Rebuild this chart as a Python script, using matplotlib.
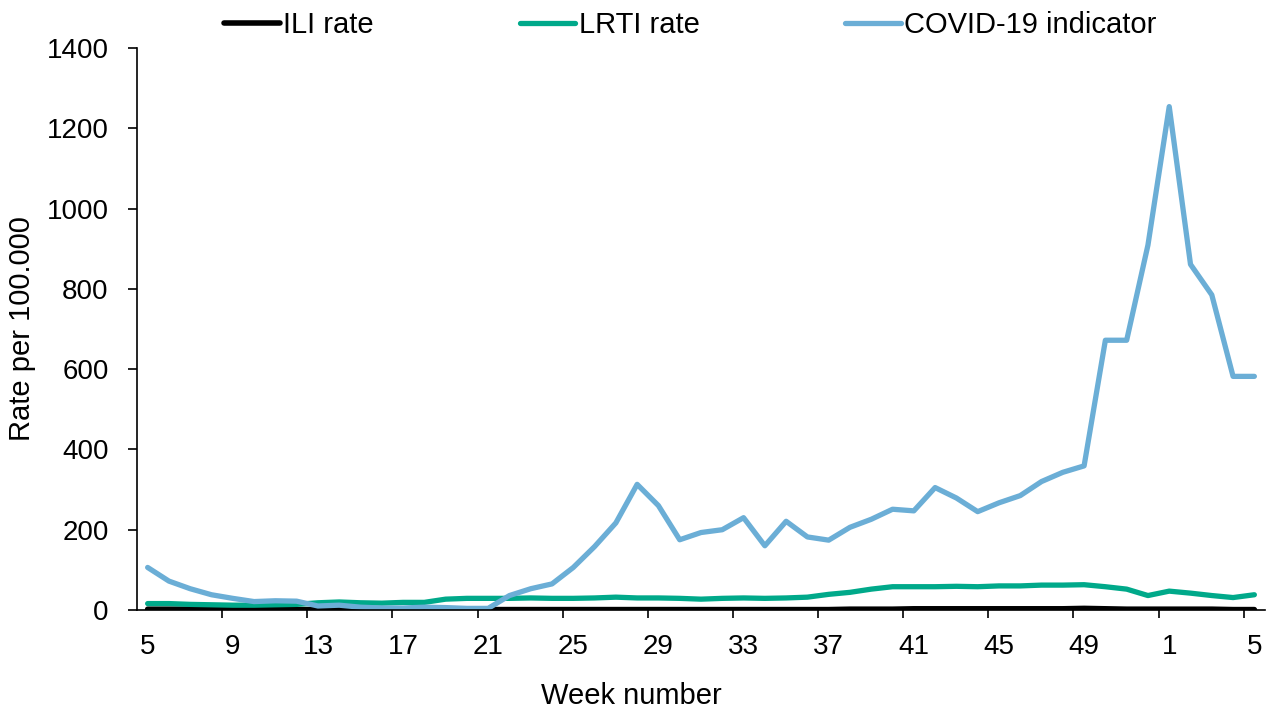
import matplotlib
matplotlib.use("Agg")
import matplotlib.pyplot as plt
import numpy as np

# Week numbers (week 5 of one year through week 5 of the next)
weeks = list(range(5, 53)) + list(range(1, 6))

ili_rate = [2, 2, 2, 2, 2, 2, 2, 1, 1, 1, 1, 1, 1, 1, 1, 1, 1,
            1, 1, 1, 1, 1, 1, 1, 1, 1, 1, 1, 1, 1, 1, 1, 1, 2, 2, 2,
            3, 3, 3, 3, 3, 3, 3, 3, 4, 3, 2, 2, 2, 2, 2, 1, 1]

lrti_rate = [16, 16, 14, 13, 12, 12, 13, 14, 18, 20, 18, 17, 19, 19, 27, 29, 29,
             29, 30, 29, 29, 30, 32, 30, 30, 29, 27, 29, 30, 29, 30, 32, 39, 44, 52, 58,
             58, 58, 59, 58, 60, 60, 62, 62, 63, 58, 52, 36, 47, 42, 36, 31, 38]

covid_indicator = [106, 72, 53, 38, 29, 21, 23, 22, 10, 12, 7, 5, 5, 7, 6, 4, 4,
                   36, 53, 65, 106, 158, 217, 313, 260, 175, 193, 200, 230, 160, 221, 182, 174, 206, 226, 251,
                   247, 305, 279, 245, 267, 285, 320, 343, 359, 672, 672, 909, 1254, 861, 785, 582, 582]

series_names = ["ILI rate", "LRTI rate", "COVID-19 indicator"]
series_colors = ["#000000", "#00a98a", "#6baed6"]

plt.rcParams["font.family"] = ["Liberation Sans", "DejaVu Sans"]
FS_TICK = 20
FS_TEXT = 21

fig = plt.figure(figsize=(12.75, 7.13), dpi=100)
ax = fig.add_axes([137 / 1275, 103 / 713, 1128 / 1275, 562 / 713])

x = np.arange(len(weeks))
ax.plot(x, ili_rate, color=series_colors[0], lw=4.0, label=series_names[0],
        solid_joinstyle="round", solid_capstyle="round")
ax.plot(x, lrti_rate, color=series_colors[1], lw=3.8, label=series_names[1],
        solid_joinstyle="round", solid_capstyle="round")
ax.plot(x, covid_indicator, color=series_colors[2], lw=3.8, label=series_names[2],
        solid_joinstyle="round", solid_capstyle="round")

ax.set_xlim(-0.5, len(weeks) - 0.5)
ax.set_ylim(0, 1400)
ax.set_yticks(np.arange(0, 1401, 200))

# tick marks sit between categories, labels on every fourth week
ax.set_xticks(np.arange(3.5, len(weeks) - 1, 4))
ax.set_xticklabels([])
ax.set_xticks(x[::4], minor=True)
ax.set_xticklabels([str(weeks[i]) for i in x[::4]], minor=True)
ax.tick_params(axis="x", which="major", direction="out", length=6, width=1.2, color="black")
ax.tick_params(axis="x", which="minor", length=0, labelsize=FS_TICK, pad=17)
ax.tick_params(axis="y", direction="out", length=6.5, width=1.2, labelsize=FS_TICK, pad=14)

for s in ["top", "right"]:
    ax.spines[s].set_visible(False)
ax.spines["left"].set_linewidth(1.2)
ax.spines["bottom"].set_linewidth(1.2)

ax.set_xlabel("Week number", fontsize=FS_TEXT)
ax.xaxis.set_label_coords((631 - 137) / 1128, -86 / 562, transform=ax.transAxes)
ax.xaxis.label.set_va("center")
ax.set_ylabel("Rate per 100.000", fontsize=FS_TEXT)
ax.yaxis.set_label_coords(-(137 - 22) / 1128, 0.5, transform=ax.transAxes)
ax.yaxis.label.set_va("center")

fig.legend(loc="center", bbox_to_anchor=(0.5416, 1 - 25 / 713), ncol=3, frameon=False,
           fontsize=FS_TEXT, handlelength=1.9, handletextpad=0.12, columnspacing=5.0,
           borderpad=0, borderaxespad=0)

fig.savefig("out.png", dpi=100)
